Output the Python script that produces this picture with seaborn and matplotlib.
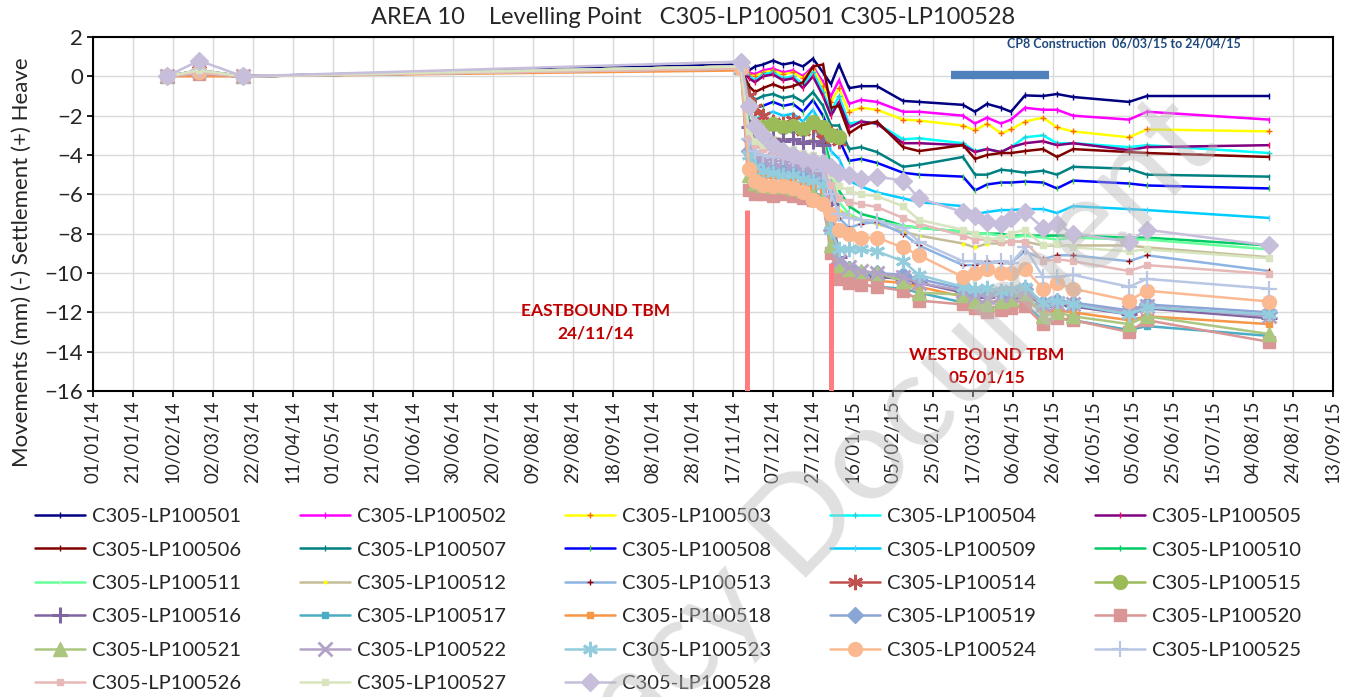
import numpy as np
import pandas as pd
import matplotlib
matplotlib.use('Agg')
import matplotlib.pyplot as plt
import matplotlib.dates as mdates
import seaborn as sns

nan = np.nan

# survey dates (dd/mm/yy)
dates = ['07/02/14', '23/02/14', '17/03/14', '21/11/14',
         '25/11/14', '28/11/14', '02/12/14', '07/12/14', '12/12/14', '17/12/14', '22/12/14',
         '27/12/14', '01/01/15', '05/01/15', '09/01/15', '14/01/15', '20/01/15',
         '28/01/15', '10/02/15', '18/02/15', '12/03/15', '18/03/15', '24/03/15', '31/03/15',
         '05/04/15', '12/04/15', '21/04/15', '28/04/15', '06/05/15', '03/06/15', '12/06/15', '12/08/15']

# movements (mm) per levelling point
lp501 = [0, 0.3, 0, 0.6, 0.3, 0.5, 0.6, 0.8, 0.6, 0.7, 0.5, 0.9, 0.2, -0.4, 0.6, -0.6, -0.5,
         -0.5, -1.25, -1.3, -1.45, -1.8, -1.4, -1.6, -1.8, -0.97, -1.0, -0.9, -1.05, -1.3, -1.0, -1.0]
lp502 = [0, 0.2, 0, 0.5, 0.2, 0.1, 0.3, 0.4, 0.2, 0.3, 0.0, 0.5, -0.3, -1.0, -0.2, -1.4, -1.2,
         -1.3, -1.8, -1.8, -2.0, -2.4, -2.1, -2.4, -2.2, -1.6, -1.7, -1.7, -2.0, -2.2, -1.8, -2.2]
lp503 = [0, 0.2, 0, 0.5, 0.1, 0.0, 0.2, 0.3, 0.1, 0.2, -0.1, 0.4, -0.5, -1.3, -0.6, -1.8, -1.6,
         -1.7, -2.2, -2.25, -2.5, -2.75, -2.4, -2.9, -2.7, -2.3, -2.1, -2.6, -2.8, -3.1, -2.7, -2.8]
lp504 = [0, 0.2, 0, 0.4, 0.0, -0.2, 0.1, 0.2, -0.1, 0.0, -0.4, 0.2, -0.8, -1.8, -1.0, -2.4, -2.3,
         -2.4, -3.2, -3.15, -3.4, -3.8, -3.7, -3.85, -3.6, -3.1, -3.0, -3.4, -3.4, -3.6, -3.5, -3.9]
lp505 = [0, 0.2, 0, 0.4, -0.1, -0.3, 0.0, 0.1, -0.2, -0.1, -0.6, 0.0, -1.0, -2.0, -1.3, -2.6, -2.3,
         -2.4, -3.4, -3.4, -3.5, -3.85, -3.7, -3.85, -3.6, -3.4, -3.3, -3.5, -3.4, -3.75, -3.6, -3.5]
lp506 = [0, 0.2, 0, 0.4, -0.5, -0.8, -0.6, -0.4, -0.6, -0.5, -0.3, 0.5, 0.6, -1.6, -1.5, -2.9, -2.5,
         -2.3, -3.6, -3.8, -3.5, -4.2, -4.0, -3.9, -3.9, -3.8, -3.7, -4.1, -3.7, -3.85, -3.9, -4.1]
lp507 = [0, 0.1, 0, 0.4, -0.8, -1.2, -1.0, -0.9, -1.1, -1.0, -1.3, -0.8, -1.5, -2.5, -2.5, -3.7, -3.6,
         -3.85, -4.6, -4.5, -4.1, -5.0, -5.0, -4.75, -4.8, -4.9, -4.8, -5.0, -4.6, -4.7, -5.0, -5.1]
lp508 = [0, 0.1, 0, 0.4, -1.2, -1.6, -1.5, -1.3, -1.5, -1.4, -1.8, -1.2, -2.0, -3.0, -3.2, -4.3, -4.2,
         -4.4, -4.9, -5.0, -5.1, -5.8, -5.5, -5.4, -5.4, -5.35, -5.4, -5.7, -5.3, -5.45, -5.55, -5.7]
lp509 = [0, 0.1, 0, 0.4, -1.8, -2.2, -2.0, -1.8, -2.0, -1.9, -2.3, -1.7, -2.6, -3.8, -4.2, -5.3, -5.6,
         -5.9, -6.2, -6.4, -6.6, -7.0, -6.9, -6.8, -6.8, -6.75, -6.75, -6.95, -6.6, -6.75, -6.8, -7.2]
lp510 = [0, 0.2, 0, 0.5, -2.2, -2.6, -2.4, -2.2, -2.4, -2.3, -2.7, -2.2, -3.0, -4.5, -5.8, -6.6, -7.0,
         -7.2, -7.6, -7.7, -7.9, -8.0, -8.0, -8.0, -8.1, -8.1, -8.1, -8.1, -8.1, -8.2, -8.2, -8.6]
lp511 = [0, 0.2, 0, 0.5, -2.5, -2.9, -2.7, -2.5, -2.7, -2.6, -3.0, -2.5, -3.3, -5.0, -6.4, -7.0, -7.3,
         -7.4, -7.6, -7.7, -7.9, -8.0, -8.0, -8.1, -8.2, -8.1, -8.2, -8.3, -8.2, -8.3, -8.3, -8.8]
lp512 = [0, 0.3, 0, 0.5, -3.0, -3.3, -3.2, -3.1, -3.2, -3.2, -3.4, -3.2, -3.6, -5.5, -6.8, -7.1, -7.3,
         -7.5, -7.9, -8.1, -8.5, -8.7, -8.5, -8.5, -8.4, -8.4, -8.6, -8.6, -8.6, -8.6, -8.7, -9.2]
lp513 = [0, 0.3, 0, 0.5, -2.6, -3.0, -2.8, -2.6, -2.8, -2.7, -3.0, -2.6, -3.4, -5.5, -7.2, -7.7, -7.5,
         -7.4, -8.0, -8.6, -9.6, -9.6, -9.4, -9.5, -9.5, -8.9, -9.3, -9.1, -9.1, -9.4, -9.1, -9.9]
lp514 = [0, 0.3, 0, 0.5, -1.0, -1.6, -2.0, -2.3, -2.4, -2.2, -2.8, -2.5, -3.2, -2.9, -3.3] + [nan] * 17
lp515 = [0, 0.2, 0, 0.5, -1.5, -2.5, -2.6, -2.4, -2.6, -2.5, -2.7, -2.3, -2.6, -3.0, -3.1] + [nan] * 17
lp516 = [0, 0.2, 0, 0.5, -2.6, -3.0, -3.1, -3.2, -3.3, -3.2, -3.4, -3.3, -3.5, -6.5, -9.2, -9.8, -10.0,
         -10.2, -10.3, -10.5, -11.0, -11.1, -11.2, -11.0, -11.2, -11.0, -11.7, -11.6, -11.7, -12.1, -11.8, -12.3]
lp517 = [0, 0.1, 0, 0.4, -4.5, -5.1, -5.3, -5.4, -5.4, -5.5, -5.7, -5.9, -6.1, -8.5, -10.0, -10.4, -10.6,
         -10.7, -10.8, -11.0, -11.5, -11.7, -11.8, -11.7, -11.8, -11.6, -12.4, -12.3, -12.4, -12.9, -12.7, -13.2]
lp518 = [0, 0.0, 0, 0.3, -4.3, -4.9, -5.1, -5.2, -5.2, -5.3, -5.5, -5.6, -5.8, -8.2, -9.8, -10.2, -10.3,
         -10.4, -10.5, -10.7, -11.2, -11.4, -11.5, -11.4, -11.5, -11.3, -12.0, -11.9, -12.0, -12.4, -12.2, -12.6]
lp519 = [0, 0.2, 0, 0.4, -3.8, -4.3, -4.5, -4.6, -4.6, -4.7, -4.9, -5.0, -5.2, -7.8, -9.5, -9.8, -10.0,
         -10.0, -10.1, -10.3, -10.8, -11.0, -11.0, -11.0, -11.0, -10.8, -11.5, -11.4, -11.5, -11.9, -11.6, -12.0]
lp520 = [0, 0.1, 0, 0.4, -5.8, -6.0, -6.0, -6.1, -6.0, -6.1, -6.2, -6.3, -6.4, -9.0, -10.3, -10.5, -10.6,
         -10.7, -10.9, -11.4, -11.6, -11.8, -12.0, -11.9, -11.8, -11.7, -12.6, -12.3, -12.4, -13.0, -12.4, -13.5]
lp521 = [0, 0.3, 0, 0.5, -5.0, -5.4, -5.5, -5.6, -5.6, -5.7, -5.8, -6.0, -6.2, -8.6, -9.6, -9.8, -9.9,
         -10.0, -10.4, -11.0, -11.1, -11.4, -11.6, -11.4, -11.3, -11.0, -12.2, -12.0, -12.2, -12.6, -12.2, -13.1]
lp522 = [0, 0.3, 0, 0.5, -3.5, -4.0, -4.2, -4.3, -4.3, -4.4, -4.6, -4.8, -5.0, -7.5, -9.4, -9.7, -9.9,
         -10.0, -10.2, -10.5, -10.9, -11.1, -11.2, -11.1, -11.1, -10.9, -11.6, -11.5, -11.6, -12.0, -11.7, -12.2]
lp523 = [0, 0.2, 0, 0.4, -4.0, -4.6, -4.8, -4.9, -5.0, -5.0, -5.2, -5.3, -5.5, -7.8, -8.8, -8.8, -8.8,
         -8.9, -9.4, -10.1, -10.7, -10.8, -10.75, -10.9, -10.8, -10.7, -11.5, -11.4, -11.6, -12.1, -11.75, -12.1]
lp524 = [0, 0.2, 0, 0.4, -4.7, -5.3, -5.5, -5.6, -5.6, -5.7, -5.9, -6.3, -6.5, -7.0, -7.8, -8.0, -8.2,
         -8.2, -8.7, -9.1, -10.2, -10.0, -9.8, -10.0, -10.0, -9.8, -10.8, -10.5, -10.8, -11.4, -10.9, -11.45]
lp525 = [0, 0.3, 0, 0.5, -3.2, -3.8, -4.0, -4.1, -4.1, -4.2, -4.4, -4.5, -4.8, -6.0, -7.0, -7.2, -7.3,
         -7.35, -7.7, -8.4, -9.4, -9.4, -9.5, -9.4, -9.5, -8.7, -10.2, -10.2, -10.1, -10.7, -10.3, -10.8]
lp526 = [0, 0.2, 0, 0.4, -3.0, -3.5, -3.7, -3.8, -3.9, -3.9, -4.1, -4.2, -4.4, -5.5, -6.2, -6.4, -6.5,
         -6.65, -7.2, -7.5, -8.1, -8.3, -8.3, -8.4, -8.4, -8.4, -9.4, -9.3, -9.4, -9.9, -9.6, -10.05]
lp527 = [0, 0.3, 0, 0.5, -2.8, -3.3, -3.5, -3.6, -3.7, -3.7, -3.9, -4.0, -4.2, -5.0, -5.6, -5.8, -6.0,
         -6.1, -6.6, -7.3, -7.8, -8.0, -8.3, -8.2, -8.0, -7.8, -8.6, -8.5, -8.7, -8.9, -8.8, -9.25]
lp528 = [0, 0.8, 0, 0.75, -1.5, -2.5, -3.0, -3.5, -3.8, -4.0, -4.2, -4.3, -4.4, -4.6, -4.9, -5.0, -5.2,
         -5.1, -5.3, -6.2, -6.9, -7.1, -7.4, -7.5, -7.2, -6.9, -7.7, -7.5, -8.0, -8.4, -7.8, -8.6]

names = ['C305-LP100501', 'C305-LP100502', 'C305-LP100503', 'C305-LP100504', 'C305-LP100505',
         'C305-LP100506', 'C305-LP100507', 'C305-LP100508', 'C305-LP100509', 'C305-LP100510',
         'C305-LP100511', 'C305-LP100512', 'C305-LP100513', 'C305-LP100514', 'C305-LP100515',
         'C305-LP100516', 'C305-LP100517', 'C305-LP100518', 'C305-LP100519', 'C305-LP100520',
         'C305-LP100521', 'C305-LP100522', 'C305-LP100523', 'C305-LP100524', 'C305-LP100525',
         'C305-LP100526', 'C305-LP100527', 'C305-LP100528']
series = [lp501, lp502, lp503, lp504, lp505, lp506, lp507, lp508, lp509, lp510,
          lp511, lp512, lp513, lp514, lp515, lp516, lp517, lp518, lp519, lp520,
          lp521, lp522, lp523, lp524, lp525, lp526, lp527, lp528]

# annotation data
tbm_dates = ['24/11/14', '05/01/15']
tbm_tops = [-6.8, -9.5]
cp8_dates = ['06/03/15', '24/04/15']
cp8_level = 0.05

# styles (Excel-like)
colors = ['#000080', '#FF00FF', '#FFFF00', '#00FFFF', '#800080', '#800000', '#008080', '#0000FF',
          '#00CCFF', '#00CC66', '#66FF99', '#C4BD97', '#8DB4E2', '#C0504D', '#9BBB59', '#8064A2',
          '#4BACC6', '#F79646', '#8AA6D6', '#D99694', '#ABC77F', '#B3A2C7', '#93CDDD', '#FAB991',
          '#B9C7E4', '#E6B9B8', '#D7E4BD', '#C7BEDB']
ast = (6, 2, 0)
markers = ['|', '|', '+', '+', '|', '|', '|', '|', '|', '|', '|', '.', '+', ast, 'o', '+',
           's', 's', 'D', 's', '^', 'x', ast, 'o', '+', 's', 's', 'D']
msizes = [5, 5, 5, 5, 5, 5, 5, 5, 5, 5, 5, 4, 5, 11, 10, 12, 4, 4, 8, 9, 10, 10, 11, 10, 12, 4, 4, 9]
mcolors = ['#000080', '#FF00FF', '#FF6600', '#33CCCC', '#FF0066', '#800000', '#008080', '#33CC33',
           '#66CCFF', '#00CC66', '#CCFFCC', '#FFFF00', '#990000', '#C0504D', '#9BBB59', '#8064A2',
           '#4BACC6', '#F79646', '#8AA6D6', '#D99694', '#ABC77F', '#B3A2C7', '#93CDDD', '#FAB991',
           '#B9C7E4', '#E6B9B8', '#D7E4BD', '#C7BEDB']
mwidths = [1, 1, 1, 1, 1, 1, 1, 1, 1, 1, 1, 1, 1, 2, 1, 2.2, 1, 1, 1, 1, 1, 2, 2, 1, 1.6, 1, 1, 1]

sns.set_theme(style='whitegrid')
plt.rcParams['font.family'] = ['Lato', 'DejaVu Sans']

fig = plt.figure(figsize=(13.59, 6.97), dpi=100)
ax = fig.add_axes([93 / 1359, 1 - 391 / 697, 1240 / 1359, 354 / 697])

x = pd.to_datetime(dates, format='%d/%m/%y')
for name, vals, col, mk, ms, mc, mw in zip(names, series, colors, markers, msizes, mcolors, mwidths):
    sns.lineplot(x=x, y=vals, ax=ax, color=col, linewidth=1.8, marker=mk, markersize=ms,
                 markerfacecolor=mc, markeredgecolor=mc, markeredgewidth=mw,
                 estimator=None, errorbar=None, legend=False)
data_lines = list(ax.lines[:len(names)])

# TBM passage lines and CP8 construction bar
ax.vlines(pd.to_datetime(tbm_dates, format='%d/%m/%y'), ymin=-16, ymax=tbm_tops,
          color='#FF7C80', linewidth=3.6, zorder=5)
ax.plot(pd.to_datetime(cp8_dates, format='%d/%m/%y'), [cp8_level, cp8_level],
        color='#4F81BD', linewidth=6, solid_capstyle='butt')

ax.text(0.405, 0.195, 'EASTBOUND TBM\n24/11/14', transform=ax.transAxes, ha='center', va='center',
        fontsize=12.5, fontweight='bold', color='#C00000', linespacing=1.5)
ax.text(0.721, 0.071, 'WESTBOUND TBM\n05/01/15', transform=ax.transAxes, ha='center', va='center',
        fontsize=12.5, fontweight='bold', color='#C00000', linespacing=1.5)
ax.text(0.831, 0.983, 'CP8 Construction  06/03/15 to 24/04/15', transform=ax.transAxes,
        ha='center', va='center', fontsize=9, fontweight='bold', color='#1F497D')

ax.set_xlim(pd.Timestamp('2014-01-01'), pd.Timestamp('2015-09-13'))
ax.set_ylim(-16, 2)
ax.set_yticks(np.arange(-16, 3, 2))
ax.set_xticks(pd.date_range('2014-01-01', '2015-09-13', freq='20D'))
ax.xaxis.set_major_formatter(mdates.DateFormatter('%d/%m/%y'))
plt.setp(ax.get_xticklabels(), rotation=90)
ax.tick_params(axis='x', labelsize=13.5, length=4, color='black', bottom=True, pad=3)
ax.tick_params(axis='y', labelsize=16, length=4, color='black', left=True, pad=3)
ax.set_xlabel('')
ax.set_ylabel('')
ax.grid(True, color='#D9D9D9', linewidth=1)
for s in ax.spines.values():
    s.set_color('black')
    s.set_linewidth(1.5)

fig.text(693 / 1359, 1 - 18 / 697, 'AREA 10    Levelling Point   C305-LP100501 C305-LP100528',
         ha='center', va='center', fontsize=17)
fig.text(22 / 1359, 1 - 262 / 697, 'Movements (mm) (-) Settlement (+) Heave', rotation=90,
         ha='center', va='center', fontsize=16)

# legend filled row by row like the original (5 columns)
order = [0, 5, 10, 15, 20, 25, 1, 6, 11, 16, 21, 26, 2, 7, 12, 17, 22, 27, 3, 8, 13, 18, 23, 4, 9, 14, 19, 24]
fig.legend([data_lines[i] for i in order], [names[i] for i in order], loc='upper left',
           bbox_to_anchor=(35 / 1359, 1 - 508 / 697), ncol=5, frameon=False, fontsize=14.5,
           handlelength=2.5, handletextpad=0.35, columnspacing=2.9, labelspacing=0.81,
           borderpad=0, borderaxespad=0)

# watermark (clipped by the page edge, as in the original scan)
fig.text(0.613, 0.285, 'Legacy Document', rotation=46, fontsize=95, color='#BBBBBB', alpha=0.45,
         ha='center', va='center', zorder=10)

fig.savefig('out.png', dpi=100)
